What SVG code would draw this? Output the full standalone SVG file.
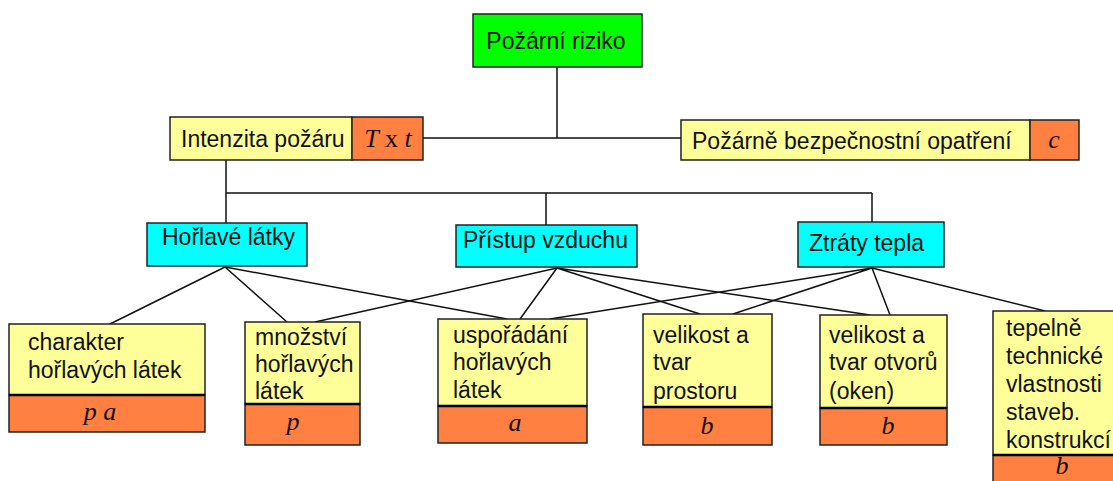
<svg xmlns="http://www.w3.org/2000/svg" width="1113" height="481" viewBox="0 0 1113 481">
  <style>
    .box { stroke: #222; stroke-width: 1.5; }
    .green { fill: #00ff00; }
    .yellow { fill: #ffff99; }
    .orange { fill: #ff8040; }
    .cyan { fill: #00ffff; }
    .sep { stroke: #000; stroke-width: 2.5; }
    .lbl { font-family: "Liberation Sans", Arial, sans-serif; font-size: 23px; fill: #111; }
    .var { font-family: "Liberation Serif", "Times New Roman", serif; font-size: 26px; font-style: italic; fill: #111; text-anchor: middle; }
    .conn { stroke: #111; stroke-width: 1.5; fill: none; }
  </style>

  <!-- connectors -->
  <g id="connectors" class="conn">
    <!-- tree trunk -->
    <path d="M557 67 V138 M423 138 H681"/>
    <path d="M226 160 V193 M226 193 H872 M226 193 V223 M546 193 V225 M872 193 V222"/>
    <!-- Hořlavé látky -->
    <path d="M225 267 L110 324 M225 267 L287 322 M225 267 L507 319"/>
    <!-- Přístup vzduchu -->
    <path d="M557 268 L315 322 M557 268 L520 319 M557 268 L700 314 M557 268 L870 315"/>
    <!-- Ztráty tepla -->
    <path d="M872 268 L550 319 M872 268 L733 314 M872 268 L890 315 M872 268 L1045 311"/>
  </g>

  <g id="pozarni-riziko">
    <rect class="box green" x="473" y="14" width="169" height="53"/>
    <text class="lbl" x="556" y="49" text-anchor="middle">Požární riziko</text>
  </g>

  <g id="intenzita-pozaru">
    <rect class="box yellow" x="170" y="117" width="182" height="43"/>
    <rect class="box orange" x="352" y="117" width="71" height="43"/>
    <text class="lbl" x="181" y="147">Intenzita požáru</text>
    <text class="var" x="388" y="147"><tspan>T</tspan><tspan font-style="normal"> x </tspan><tspan>t</tspan></text>
  </g>

  <g id="pozarne-bezpecnostni-opatreni">
    <rect class="box yellow" x="681" y="120" width="349" height="40"/>
    <rect class="box orange" x="1030" y="120" width="49" height="40"/>
    <text class="lbl" x="692" y="149">Požárně bezpečnostní opatření</text>
    <text class="var" x="1054" y="148">c</text>
  </g>

  <g id="horlave-latky">
    <rect class="box cyan" x="147" y="223" width="160" height="43"/>
    <text class="lbl" x="162" y="245">Hořlavé látky</text>
  </g>

  <g id="pristup-vzduchu">
    <rect class="box cyan" x="456" y="225" width="181" height="42"/>
    <text class="lbl" x="463" y="248">Přístup vzduchu</text>
  </g>

  <g id="ztraty-tepla">
    <rect class="box cyan" x="798" y="222" width="146" height="45"/>
    <text class="lbl" x="809" y="251">Ztráty tepla</text>
  </g>

  <g id="charakter">
    <rect class="box yellow" x="9" y="324" width="196" height="71"/>
    <rect class="box orange" x="9" y="395" width="196" height="37"/>
    <line class="sep" x1="9" y1="395" x2="205" y2="395"/>
    <text class="lbl" x="28" y="350">charakter</text>
    <text class="lbl" x="28" y="378">hořlavých látek</text>
    <text class="var" x="100" y="420">p a</text>
  </g>

  <g id="mnozstvi">
    <rect class="box yellow" x="245" y="322" width="115" height="82"/>
    <rect class="box orange" x="245" y="404" width="115" height="41"/>
    <line class="sep" x1="245" y1="404" x2="360" y2="404"/>
    <text class="lbl" x="255" y="345">množství</text>
    <text class="lbl" x="255" y="372">hořlavých</text>
    <text class="lbl" x="255" y="399">látek</text>
    <text class="var" x="293" y="430">p</text>
  </g>

  <g id="usporadani">
    <rect class="box yellow" x="438" y="319" width="149" height="87"/>
    <rect class="box orange" x="438" y="406" width="149" height="37"/>
    <line class="sep" x1="438" y1="406" x2="587" y2="406"/>
    <text class="lbl" x="453" y="343">uspořádání</text>
    <text class="lbl" x="453" y="370">hořlavých</text>
    <text class="lbl" x="453" y="398">látek</text>
    <text class="var" x="515" y="431">a</text>
  </g>

  <g id="velikost-prostoru">
    <rect class="box yellow" x="643" y="314" width="129" height="93"/>
    <rect class="box orange" x="643" y="407" width="129" height="38"/>
    <line class="sep" x1="643" y1="407" x2="772" y2="407"/>
    <text class="lbl" x="653" y="343">velikost a</text>
    <text class="lbl" x="653" y="370">tvar</text>
    <text class="lbl" x="653" y="399">prostoru</text>
    <text class="var" x="707" y="434">b</text>
  </g>

  <g id="velikost-otvoru">
    <rect class="box yellow" x="820" y="315" width="127" height="93"/>
    <rect class="box orange" x="820" y="408" width="127" height="37"/>
    <line class="sep" x1="820" y1="408" x2="947" y2="408"/>
    <text class="lbl" x="829" y="343">velikost a</text>
    <text class="lbl" x="829" y="370">tvar otvorů</text>
    <text class="lbl" x="829" y="399">(oken)</text>
    <text class="var" x="888" y="434">b</text>
  </g>

  <g id="tepelne-technicke">
    <rect class="box yellow" x="993" y="311" width="127" height="144"/>
    <rect class="box orange" x="993" y="455" width="127" height="40"/>
    <line class="sep" x1="993" y1="455" x2="1120" y2="455"/>
    <text class="lbl" x="1006" y="336">tepelně</text>
    <text class="lbl" x="1006" y="364">technické</text>
    <text class="lbl" x="1006" y="392">vlastnosti</text>
    <text class="lbl" x="1006" y="420">staveb.</text>
    <text class="lbl" x="1006" y="448">konstrukcí</text>
    <text class="var" x="1062" y="474" font-size="23">b</text>
  </g>
</svg>
